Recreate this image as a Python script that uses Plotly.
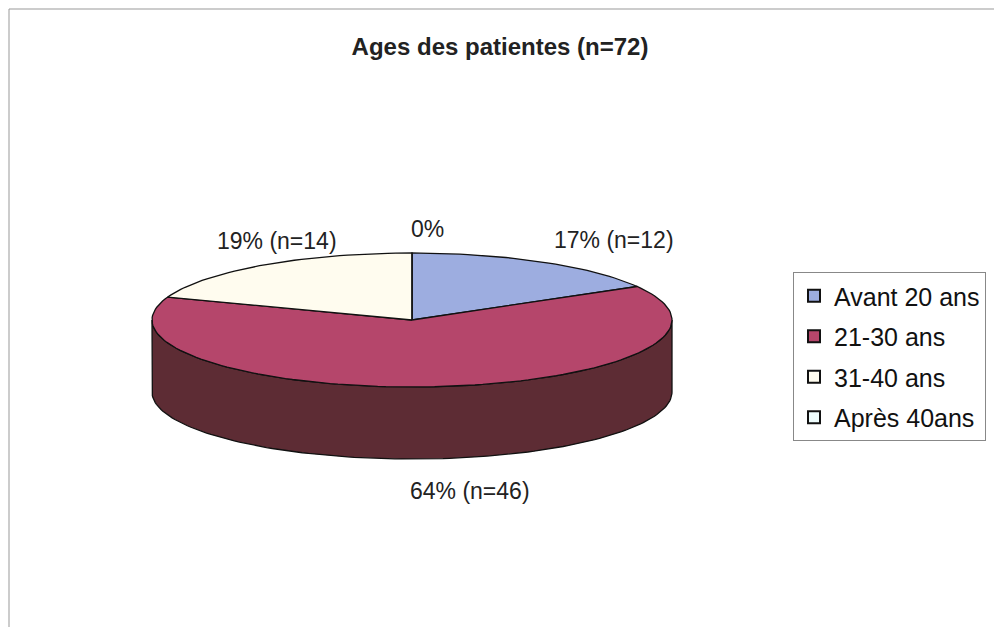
import numpy as np
import plotly.graph_objects as go

# ---- data ----
categories = ["Avant 20 ans", "21-30 ans", "31-40 ans", "Après 40ans"]
counts = [12, 46, 14, 0]
labels = ["17% (n=12)", "64% (n=46)", "19% (n=14)", "0%"]
title_text = "Ages des patientes (n=72)"

# ---- styles ----
top_colors = ["#9dade0", "#b5466b", "#fffcef", "#eefcfc"]
side_colors = ["#4e5a82", "#5d2c34", "#8a887e", "#7c8a8a"]
label_shift = [(72, 22), (35, -32), (14, 24), (15, 24)]

OFF = 8                      # page body margin
W, H = 1002 - OFF, 627 - OFF
cx, cy, rx, ry, depth = 412, 320, 260, 67, 72
font = "Liberation Sans, Arial, sans-serif"

total = sum(counts)
fracs = [c / total for c in counts]
spans = []
a = -np.pi / 2
for f in fracs:
    spans.append((a, a + 2 * np.pi * f))
    a += 2 * np.pi * f

fig = go.Figure()

# side walls (front half only)
for i, (a0, a1) in enumerate(spans):
    for k in (-1, 0, 1):
        lo = max(a0, 0 + 2 * np.pi * k)
        hi = min(a1, np.pi + 2 * np.pi * k)
        if hi - lo > 1e-6:
            t = np.linspace(lo, hi, 120)
            xs = np.concatenate([cx + rx * np.cos(t), (cx + rx * np.cos(t))[::-1]])
            ys = np.concatenate([cy + ry * np.sin(t), (cy + depth + ry * np.sin(t))[::-1]])
            fig.add_trace(go.Scatter(
                x=np.append(xs, xs[0]), y=np.append(ys, ys[0]), mode="lines",
                fill="toself", fillcolor=side_colors[i],
                line=dict(color="#111", width=1.3), showlegend=False, hoverinfo="skip"))

# top faces
for i, (a0, a1) in enumerate(spans):
    n = max(2, int(200 * (a1 - a0) / (2 * np.pi)) + 2)
    t = np.linspace(a0, a1, n)
    xs = np.concatenate([[cx], cx + rx * np.cos(t), [cx]])
    ys = np.concatenate([[cy], cy + ry * np.sin(t), [cy]])
    fig.add_trace(go.Scatter(
        x=xs, y=ys, mode="lines", fill="toself", fillcolor=top_colors[i],
        line=dict(color="#111", width=1.3), showlegend=False, hoverinfo="skip"))

# legend entries (square swatches)
for i, c in enumerate(categories):
    fig.add_trace(go.Scatter(
        x=[None], y=[None], mode="markers", name=c, legendgroup=c,
        marker=dict(symbol="square", size=14, color=top_colors[i],
                    line=dict(color="#111", width=1.5))))

# labels
for i, (a0, a1) in enumerate(spans):
    m = (a0 + a1) / 2
    ex = cx + rx * np.cos(m)
    ey = cy + ry * np.sin(m) + (depth if np.sin(m) > 0 else 0)
    dx, dy = label_shift[i]
    fig.add_annotation(x=ex, y=ey, text=labels[i], showarrow=False,
                       xshift=dx, yshift=dy, xanchor="center", yanchor="middle",
                       font=dict(family=font, size=23, color="#222"))

fig.add_shape(type="rect", x0=9, y0=9, x1=1030, y1=660,
              line=dict(color="#999", width=1), layer="below")

fig.update_layout(
    width=W, height=H, margin=dict(l=0, r=0, t=0, b=0, autoexpand=False),
    paper_bgcolor="white", plot_bgcolor="white",
    xaxis=dict(range=[OFF, OFF + W], visible=False, fixedrange=True),
    yaxis=dict(range=[OFF + H, OFF], visible=False, fixedrange=True),
    title=dict(text="<b>" + title_text + "</b>", x=(500 - OFF) / W, xanchor="center",
               y=1 - (47 - OFF) / H, yanchor="middle",
               font=dict(family=font, size=24, color="#222")),
    legend=dict(x=(793 - OFF) / W, y=1 - (272 - OFF) / H, xanchor="left", yanchor="top",
                bordercolor="#888", borderwidth=1, bgcolor="white",
                font=dict(family=font, size=25, color="#111"),
                tracegroupgap=5, traceorder="grouped", itemsizing="constant"),
    showlegend=True,
)

fig.write_html("out.html")
